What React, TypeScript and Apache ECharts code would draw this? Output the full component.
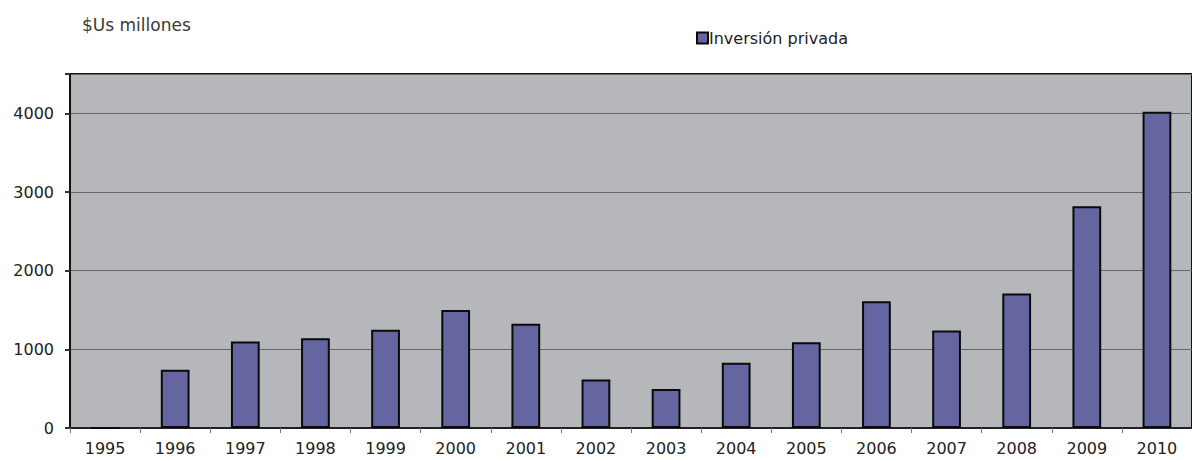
import React, { useEffect, useRef } from "react";
import * as echarts from "echarts";

const years = ["1995", "1996", "1997", "1998", "1999", "2000", "2001", "2002", "2003", "2004", "2005", "2006", "2007", "2008", "2009", "2010"];
const inversionPrivada = [0, 740, 1100, 1140, 1250, 1500, 1325, 615, 495, 830, 1090, 1610, 1240, 1710, 2820, 4020];
const yTicks = [0, 1000, 2000, 3000, 4000];

const FONT = "DejaVu Sans, Verdana, sans-serif";

export default function App() {
  const ref = useRef<HTMLDivElement>(null);
  useEffect(() => {
    document.body.style.margin = "0";
    const chart = echarts.init(ref.current!, null, { renderer: "svg" });
    chart.setOption({
      animation: false,
      backgroundColor: "#ffffff",
      textStyle: { fontFamily: FONT },
      title: {
        text: "$Us millones",
        left: 77,
        top: 11,
        textStyle: { fontSize: 17, fontWeight: "normal", color: "#3a3a3a", fontFamily: FONT },
      },
      legend: {
        data: ["Inversión privada"],
        left: 691,
        top: 25,
        itemWidth: 11,
        itemHeight: 11,
        itemGap: 4,
        icon: "rect",
        textStyle: { fontSize: 16, color: "#222222", padding: [0, 0, 0, -4], fontFamily: FONT },
      },
      grid: {
        left: 70,
        top: 74,
        right: -9,
        bottom: 32,
        show: true,
        backgroundColor: "#b5b7ba",
        borderColor: "#111111",
        borderWidth: 2,
        containLabel: false,
      },
      xAxis: {
        type: "category",
        data: years,
        boundaryGap: true,
        axisLine: { show: true, lineStyle: { color: "#222222", width: 2 } },
        axisTick: { show: true, alignWithLabel: false, length: 5, lineStyle: { color: "#777777", width: 1 } },
        axisLabel: { fontSize: 16, color: "#222222", margin: 12, interval: 0, fontFamily: FONT },
        splitLine: { show: false },
      },
      yAxis: {
        type: "value",
        min: 0,
        max: 4500,
        interval: 1000,
        axisLine: { show: true, lineStyle: { color: "#111111", width: 2 } },
        axisTick: { show: true, length: 5, lineStyle: { color: "#333333", width: 2 } },
        axisLabel: {
          fontSize: 16,
          color: "#222222",
          margin: 16,
          fontFamily: FONT,
          formatter: (v: number) => (yTicks.includes(v) ? String(v) : ""),
        },
        splitLine: { show: true, lineStyle: { color: "#666666", width: 1 } },
      },
      series: [
        {
          name: "Inversión privada",
          type: "bar",
          data: inversionPrivada,
          barWidth: "41%",
          itemStyle: { color: "#6566a1", borderColor: "#0a0a0a", borderWidth: 2 },
        },
      ],
    });
    return () => chart.dispose();
  }, []);
  return <div ref={ref} style={{ width: 1192, height: 460, position: "absolute", left: 0, top: 0 }} />;
}
